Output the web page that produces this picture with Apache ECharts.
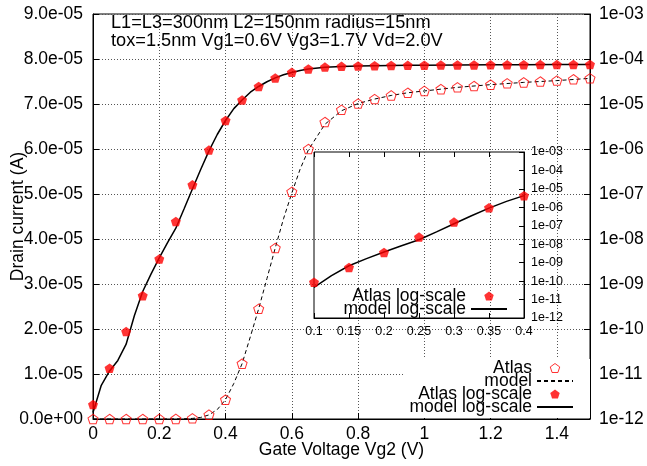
<!DOCTYPE html>
<html>
<head>
<meta charset="utf-8">
<script src="https://cdn.jsdelivr.net/npm/echarts@6/dist/echarts.min.js"></script>
<style>
html,body{margin:0;padding:0;background:#fff;}
#chart{width:647px;height:466px;}
</style>
</head>
<body>
<div id="chart"></div>
<script>
// ---- data ----
const atlasVg = [0, 0.05, 0.1, 0.15, 0.2, 0.25, 0.3, 0.35, 0.4, 0.45, 0.5, 0.55, 0.6, 0.65, 0.7, 0.75,
  0.8, 0.85, 0.9, 0.95, 1.0, 1.05, 1.1, 1.15, 1.2, 1.25, 1.3, 1.35, 1.4, 1.45, 1.5];
const atlasCurrent = [2.1e-12, 1.35e-11, 8.8e-11, 5.5e-10, 3.6e-9, 2.45e-8, 1.6e-7, 9.5e-7, 4.3e-6,
  1.23e-5, 2.45e-5, 3.8e-5, 5.05e-5, 6.0e-5, 6.6e-5, 6.87e-5, 7.01e-5, 7.11e-5, 7.19e-5, 7.25e-5,
  7.29e-5, 7.33e-5, 7.37e-5, 7.40e-5, 7.43e-5, 7.46e-5, 7.48e-5, 7.50e-5, 7.52e-5, 7.55e-5, 7.57e-5];
const modelVg = [0, 0.025, 0.05, 0.075, 0.1, 0.125, 0.15, 0.175, 0.2, 0.225, 0.25, 0.275, 0.3, 0.325,
  0.35, 0.375, 0.4, 0.425, 0.45, 0.475, 0.5, 0.525, 0.55, 0.575, 0.6, 0.625, 0.65, 0.7, 0.75, 0.8,
  0.85, 0.9, 0.95, 1.0, 1.1, 1.2, 1.3, 1.4, 1.5];
const modelCurrent = [1.4e-12, 5.6e-12, 1.17e-11, 2.0e-11, 4.6e-11, 2.0e-10, 6.8e-10, 1.66e-9, 3.8e-9,
  8.3e-9, 1.74e-8, 4.7e-8, 1.29e-7, 3.5e-7, 9.1e-7, 2.1e-6, 4.3e-6, 7.9e-6, 1.23e-5, 1.83e-5, 2.45e-5,
  3.12e-5, 3.8e-5, 4.45e-5, 5.02e-5, 5.55e-5, 5.98e-5, 6.55e-5, 6.85e-5, 7.01e-5, 7.11e-5, 7.19e-5,
  7.25e-5, 7.29e-5, 7.37e-5, 7.43e-5, 7.48e-5, 7.52e-5, 7.57e-5];
const annotationLines = ['L1=L3=300nm L2=150nm radius=15nm', 'tox=1.5nm Vg1=0.6V Vg3=1.7V Vd=2.0V'];
const seriesNames = ['Atlas', 'model', 'Atlas log-scale', 'model log-scale'];
const xTitle = 'Gate Voltage Vg2 (V)';
const yTitle = 'Drain current (A)';
const insetRange = [0.1, 0.4];

// ---- helpers ----
const FONT = '"Liberation Sans", Arial, sans-serif';
const FS = 17.5;
const PENT = 'path://M0,-1L0.951,-0.309L0.588,0.809L-0.588,0.809L-0.951,-0.309Z';
const pairs = (xs, ys) => xs.map((x, i) => [x, ys[i]]);
const inInset = p => p[0] >= insetRange[0] - 1e-9 && p[0] <= insetRange[1] + 1e-9;
function linFmt(v) {
  const s = Number(v).toExponential(1);
  const parts = s.split('e');
  const sign = parts[1][0];
  return parts[0] + 'e' + sign + parts[1].slice(1).padStart(2, '0');
}
function logFmt(v) {
  const e = Math.round(Math.log10(v));
  return '1e' + (e < 0 ? '-' : '+') + String(Math.abs(e)).padStart(2, '0');
}
const dotted = { show: true, lineStyle: { color: '#555', type: [1, 2], width: 1 } };
const blackLine = { show: true, lineStyle: { color: '#000', width: 1 } };
const hideSym = { color: 'transparent', borderColor: 'transparent', borderWidth: 0 };
const legendItems = names => names.map(n => (n.indexOf('model') === 0 ? { name: n, itemStyle: hideSym } : { name: n }));

const chart = echarts.init(document.getElementById('chart'), null, { renderer: 'canvas' });
chart.setOption({
  animation: false,
  backgroundColor: '#fff',
  textStyle: { fontFamily: FONT },
  grid: [
    { left: 93, right: 57, top: 14, bottom: 47, show: true, borderColor: '#000', borderWidth: 1,
      backgroundColor: 'transparent', outerBoundsMode: 'none' },
    { left: 314, right: 123, top: 152, bottom: 148, show: true, borderColor: '#000', borderWidth: 1,
      backgroundColor: 'transparent', outerBoundsMode: 'none' }
  ],
  xAxis: [
    { gridIndex: 0, type: 'value', min: 0, max: 1.5, interval: 0.2,
      axisLine: blackLine, axisTick: { show: true, inside: true, length: 6, lineStyle: { color: '#000' } },
      axisLabel: { fontSize: FS, fontFamily: FONT, color: '#000', margin: 6, showMaxLabel: false },
      splitLine: dotted,
      name: xTitle, nameLocation: 'middle', nameGap: 22, nameMoveOverlap: false,
      nameTextStyle: { fontSize: FS, fontFamily: FONT, color: '#000' } },
    { gridIndex: 1, type: 'value', min: insetRange[0], max: insetRange[1], interval: 0.05,
      axisLine: blackLine, axisTick: { show: true, inside: true, length: 5, lineStyle: { color: '#000' } },
      axisLabel: { fontSize: 12.5, fontFamily: FONT, color: '#000', margin: 7 },
      splitLine: { show: false } },
    { gridIndex: 1, type: 'value', position: 'top', min: insetRange[0], max: insetRange[1], interval: 0.05,
      axisLine: { show: false }, axisTick: { show: true, inside: true, length: 5, lineStyle: { color: '#000' } },
      axisLabel: { show: false }, splitLine: { show: false } }
  ],
  yAxis: [
    { gridIndex: 0, type: 'value', position: 'left', min: 0, max: 9e-5, interval: 1e-5,
      axisLine: blackLine, axisTick: { show: true, inside: true, length: 6, lineStyle: { color: '#000' } },
      axisLabel: { fontSize: FS, fontFamily: FONT, color: '#000', margin: 10, formatter: linFmt },
      splitLine: dotted,
      name: yTitle, nameLocation: 'middle', nameRotate: 90, nameGap: 66, nameMoveOverlap: false,
      nameTextStyle: { fontSize: FS, fontFamily: FONT, color: '#000' } },
    { gridIndex: 0, type: 'log', logBase: 10, position: 'right', min: 1e-12, max: 1e-3, interval: 1,
      axisLine: blackLine, axisTick: { show: true, inside: true, length: 6, lineStyle: { color: '#000' } },
      axisLabel: { fontSize: FS, fontFamily: FONT, color: '#000', margin: 9, formatter: logFmt },
      splitLine: { show: false }, minorTick: { show: false } },
    { gridIndex: 1, type: 'log', logBase: 10, position: 'right', min: 1e-12, max: 1e-3, interval: 1,
      axisLine: blackLine, axisTick: { show: true, inside: true, length: 5, lineStyle: { color: '#000' } },
      axisLabel: { fontSize: 12.5, fontFamily: FONT, color: '#000', margin: 7, formatter: logFmt },
      splitLine: { show: false }, minorTick: { show: false } }
  ],
  legend: [
    { data: legendItems(seriesNames), orient: 'vertical', align: 'right', right: 57, top: 359,
      padding: [0, 16, 2, 6], itemWidth: 36, itemHeight: 9, itemGap: -5, backgroundColor: '#fff',
      selectedMode: false, itemStyle: { borderWidth: 1 },
      textStyle: { fontSize: FS, fontFamily: FONT, color: '#000' } },
    { data: legendItems(seriesNames.slice(2)), orient: 'vertical', align: 'right', right: 139, top: 287,
      padding: 0, itemWidth: 36, itemHeight: 9, itemGap: -5,
      selectedMode: false, itemStyle: { borderWidth: 1 },
      textStyle: { fontSize: FS, fontFamily: FONT, color: '#000' } }
  ],
  graphic: [
    { type: 'text', left: 111, top: 14, z: 10,
      style: { text: annotationLines.join('\n'), font: '18.2px ' + FONT, fill: '#000', lineHeight: 18.2 } }
  ],
  series: [
    { name: seriesNames[0], type: 'scatter', xAxisIndex: 0, yAxisIndex: 0,
      data: pairs(atlasVg, atlasCurrent), symbol: PENT, symbolSize: [10, 9.5], z: 4,
      itemStyle: { color: 'transparent', borderColor: '#ff0000', borderWidth: 1 } },
    { name: seriesNames[1], type: 'line', xAxisIndex: 0, yAxisIndex: 0,
      data: pairs(modelVg, modelCurrent), symbol: 'none', showSymbol: false, z: 3,
      lineStyle: { color: '#000', width: 1, type: [4, 3] }, itemStyle: { color: '#000' } },
    { name: seriesNames[2], type: 'scatter', xAxisIndex: 0, yAxisIndex: 1,
      data: pairs(atlasVg, atlasCurrent), symbol: PENT, symbolSize: [10, 9.5], z: 4,
      itemStyle: { color: '#ff0000' } },
    { name: seriesNames[3], type: 'line', xAxisIndex: 0, yAxisIndex: 1,
      data: pairs(modelVg, modelCurrent), symbol: 'none', showSymbol: false, z: 3,
      lineStyle: { color: '#000', width: 1.5 }, itemStyle: { color: '#000' } },
    { name: seriesNames[2], type: 'scatter', xAxisIndex: 1, yAxisIndex: 2, clip: false,
      data: pairs(atlasVg, atlasCurrent).filter(inInset), symbol: PENT, symbolSize: [10, 9.5], z: 4,
      itemStyle: { color: '#ff0000' } },
    { name: seriesNames[3], type: 'line', xAxisIndex: 1, yAxisIndex: 2, clip: false,
      data: pairs(modelVg, modelCurrent).filter(inInset), symbol: 'none', showSymbol: false, z: 3,
      lineStyle: { color: '#000', width: 1.5 }, itemStyle: { color: '#000' } }
  ]
});
</script>
</body>
</html>
